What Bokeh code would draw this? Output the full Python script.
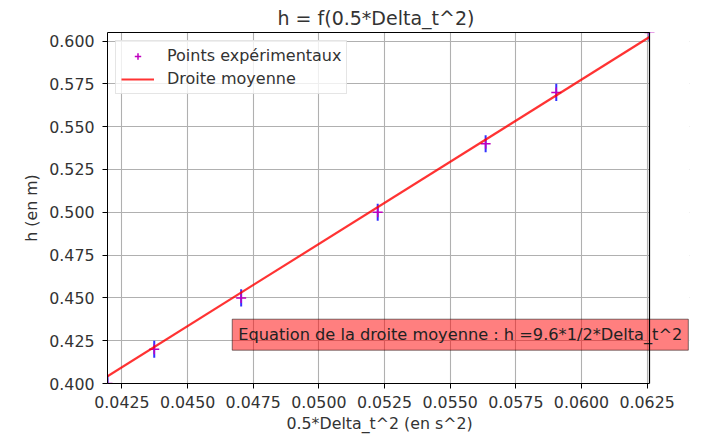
from bokeh.plotting import figure
from bokeh.models import (Range1d, FixedTicker, Label, Legend, LegendItem,
                          CustomJSTickFormatter, BoxAnnotation, Title)
from bokeh.embed import file_html
from bokeh.resources import INLINE

# ---- data ----
x_half_dt2 = [0.04195, 0.04373, 0.04704, 0.05224, 0.05635, 0.05904, 0.06259]
h_m = [0.400, 0.420, 0.450, 0.500, 0.540, 0.570, 0.605]
h_err = [0.005, 0.005, 0.005, 0.005, 0.005, 0.005, 0.005]

line_slope = 9.6
line_intercept = 0.0015
line_x = [0.04195, 0.06259]

x_ticks = [0.0425, 0.0450, 0.0475, 0.0500, 0.0525, 0.0550, 0.0575, 0.0600, 0.0625]
y_ticks = [0.400, 0.425, 0.450, 0.475, 0.500, 0.525, 0.550, 0.575, 0.600]

title_text = "h = f(0.5*Delta_t^2)"
x_label = "0.5*Delta_t^2 (en s^2)"
y_label = "h (en m)"
annot_text = "Equation de la droite moyenne : h =9.6*1/2*Delta_t^2"
annot_pos = (0.0467, 0.4285)

FONT = "DejaVu Sans"
TXT = "#333333"
FS = "15.8px"

# layout (pixels)
AX_W = 542          # width of the visible axes box
EXTRA_W = 40        # room on the right so the annotation box can overflow the axes
FRAME_H = 351
LEFT, TOP = 107, 32

x_min, x_max = min(x_half_dt2), max(x_half_dt2)
y_min, y_max = min(h_m), max(h_m)
x_ext = x_max + (x_max - x_min) * EXTRA_W / AX_W

p = figure(width=702, height=440, output_backend="svg", toolbar_location=None,
           frame_width=AX_W + EXTRA_W, frame_height=FRAME_H,
           min_border_left=LEFT, min_border_top=TOP,
           min_border_right=702 - LEFT - AX_W - EXTRA_W,
           min_border_bottom=440 - TOP - FRAME_H,
           x_range=Range1d(x_min, x_ext),
           y_range=Range1d(y_min, y_max))

p.title.text = title_text
p.title.align = "left"
p.title.offset = 170
p.title.text_font = FONT
p.title.text_font_size = "19px"
p.title.text_font_style = "normal"
p.title.text_color = TXT
p.title.standoff = 7

p.outline_line_color = None
p.background_fill_color = "white"
p.border_fill_color = "white"

for ax, ticks, fmt in ((p.xaxis[0], x_ticks, "return tick.toFixed(4);"),
                       (p.yaxis[0], y_ticks, "return tick.toFixed(3);")):
    ax.ticker = FixedTicker(ticks=ticks)
    ax.formatter = CustomJSTickFormatter(code=fmt)
    ax.major_label_text_font = FONT
    ax.major_label_text_font_size = FS
    ax.major_label_text_color = TXT
    ax.axis_label_text_font = FONT
    ax.axis_label_text_font_size = FS
    ax.axis_label_text_font_style = "normal"
    ax.axis_label_text_color = TXT
    ax.major_tick_out = 5
    ax.major_tick_in = 0
    ax.minor_tick_out = 0
    ax.minor_tick_in = 0
    ax.axis_line_color = "black"
    ax.major_tick_line_color = "black"

p.xaxis.bounds = (x_min, x_max)
p.yaxis.axis_label = y_label
p.xaxis.major_label_standoff = 7
p.yaxis.major_label_standoff = 8
p.yaxis.axis_label_standoff = 5

xlab = Title(text=x_label, align="left", offset=179, text_font=FONT, text_font_size=FS,
             text_font_style="normal", text_color=TXT, standoff=2)
p.add_layout(xlab, "below")

p.grid.grid_line_color = "#b0b0b0"
p.grid.grid_line_width = 1.1

# error bars
y0 = [h - e for h, e in zip(h_m, h_err)]
y1 = [h + e for h, e in zip(h_m, h_err)]
p.segment(x0=x_half_dt2, y0=y0, x1=x_half_dt2, y1=y1, line_color="#3333ff", line_width=2)

# experimental points
pts = p.scatter(x=x_half_dt2, y=h_m, marker="cross", size=10, line_color="#bf00bf", line_width=1.5)

# mean line
line_y = [line_slope * x + line_intercept for x in line_x]
ln = p.line(x=line_x, y=line_y, line_color="red", line_alpha=0.8, line_width=2.2)

# white cover for the extra room right of the axes box
cover = BoxAnnotation(left=x_max, fill_color="white", fill_alpha=1.0, line_color=None)
p.add_layout(cover)

# top and right sides of the axes box
border = p.line(x=[x_min, x_max, x_max], y=[y_max, y_max, y_min], line_color="black", line_width=1.2)
border.level = "overlay"

legend = Legend(items=[LegendItem(label="Points expérimentaux", renderers=[pts]),
                       LegendItem(label="Droite moyenne", renderers=[ln])],
                location="top_left", margin=8, padding=5, spacing=4,
                label_text_font=FONT, label_text_font_size="16px", label_text_color=TXT,
                glyph_width=33, glyph_height=16, label_standoff=13,
                border_line_color="#cccccc", background_fill_alpha=0.8)
p.add_layout(legend)

lab = Label(x=annot_pos[0], y=annot_pos[1], text=annot_text,
            text_font=FONT, text_font_size="16.2px", text_color="#222222",
            text_baseline="alphabetic",
            background_fill_color="red", background_fill_alpha=0.5,
            border_line_color="black", border_line_alpha=0.5, border_line_width=1,
            padding=6)
p.add_layout(lab)

open("out.html", "w").write(file_html(p, INLINE))
